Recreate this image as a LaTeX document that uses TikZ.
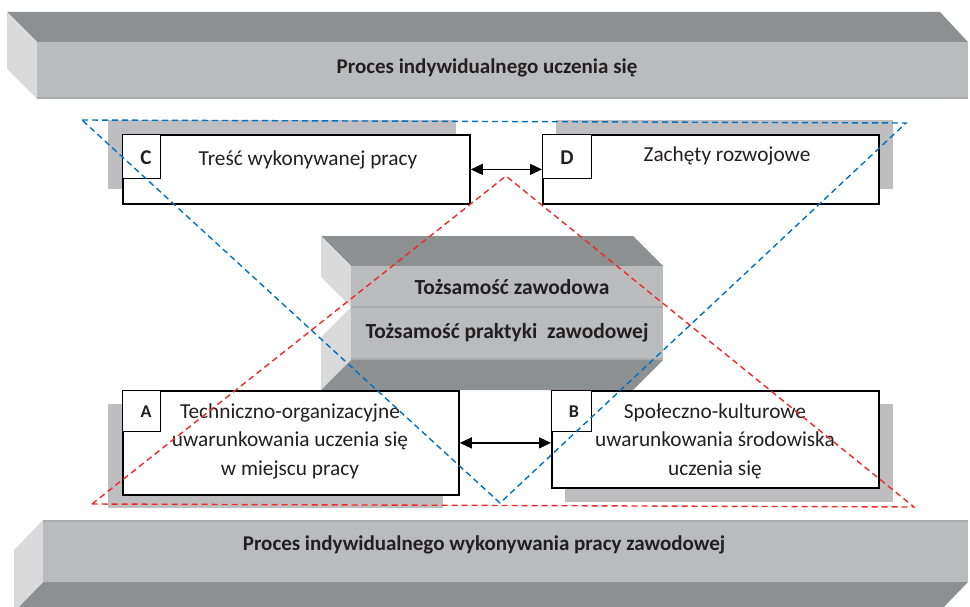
\documentclass[tikz,border=0pt]{standalone}
\usepackage{fontspec}
\setmainfont{Carlito}
\usetikzlibrary{arrows.meta}
\definecolor{barfront}{HTML}{B9BBBC}
\definecolor{bartop}{HTML}{8D9091}
\definecolor{barside}{HTML}{DADADA}
\definecolor{baredge}{HTML}{A9ABAC}
\definecolor{shadowgrey}{HTML}{BEBEC0}
\definecolor{dashblue}{HTML}{0070C0}
\definecolor{dashred}{HTML}{F02828}
\definecolor{inktext}{HTML}{231F20}
\begin{document}
\begin{tikzpicture}[x=1pt,y=-1pt,
  box/.style={draw=black, line width=1.8pt, fill=white, anchor=north west, inner sep=0pt},
  tagbox/.style={draw=black, line width=1.3pt, fill=white, anchor=north west, inner sep=0pt},
  tagtext/.style={text=inktext, font=\bfseries\fontsize{21}{24}\selectfont},
  smalltag/.style={text=inktext, font=\bfseries\fontsize{18}{21}\selectfont},
  bodytext/.style={text=inktext, font=\fontsize{21.3}{28.5}\selectfont, align=center},
  bartext/.style={text=inktext, font=\bfseries\fontsize{21}{25}\selectfont},
  idtext/.style={text=inktext, font=\bfseries\fontsize{21.5}{25}\selectfont},
  guide/.style={dash pattern=on 6pt off 4pt, line width=1.4pt},
  link/.style={line width=1.4pt, {Triangle[length=12pt,width=11pt]}-{Triangle[length=12pt,width=11pt]}}]
\useasboundingbox (0,0) rectangle (970,607);

% upper bar: learning process
\fill[bartop] (7,12) -- (940,12) -- (968,42) -- (37,42) -- cycle;
\fill[barside] (7,12) -- (37,42) -- (37,99) -- (7,69) -- cycle;
\fill[barfront] (37,42) rectangle (968,99);
\draw[baredge, line width=1.5pt] (37,98) -- (968,98);
\node[bartext] (learn) at (487,68) {Proces indywidualnego uczenia się};

% lower bar: work process
\fill[bartop] (43,582) -- (968,582) -- (939,612) -- (14,612) -- cycle;
\fill[barside] (43,520) -- (14,550) -- (14,612) -- (43,582) -- cycle;
\fill[barfront] (43,520) rectangle (968,582);
\draw[baredge, line width=1.5pt] (43,521) -- (968,521);
\node[bartext] (work) at (484,545) {Proces indywidualnego wykonywania pracy zawodowej};

% central block: identity
\fill[bartop] (321,236) -- (633,236) -- (663,266) -- (351,266) -- cycle;
\fill[barside] (321,236) -- (351,266) -- (351,307) -- (321,277) -- cycle;
\fill[barfront] (351,266) rectangle (663,307);
\fill[barside] (351,307) -- (321,337) -- (321,390) -- (351,360) -- cycle;
\fill[bartop] (351,360) -- (663,360) -- (633,390) -- (321,390) -- cycle;
\fill[barfront] (351,307) rectangle (663,360);
\draw[baredge, line width=1.5pt] (351,307) -- (663,307);
\draw[baredge, line width=1.2pt] (351,359) -- (663,359);
\node[idtext] (idjob) at (512,287) {Tożsamość zawodowa};
\node[idtext] (idpractice) at (507,333) {Tożsamość praktyki\ \ zawodowej};

% shadows behind the four boxes
\fill[shadowgrey] (108,120) rectangle (456,189);
\fill[shadowgrey] (556,120) rectangle (893,189);
\fill[shadowgrey] (108,404) rectangle (443,508);
\fill[shadowgrey] (565,404) rectangle (893,502);

% the four boxes with their letter tags
\node[box, minimum width=347, minimum height=69] (boxC) at (122,134) {};
\node[box, minimum width=336, minimum height=69] (boxD) at (542,134) {};
\node[box, minimum width=336, minimum height=104] (boxA) at (122,390) {};
\node[box, minimum width=327, minimum height=97] (boxB) at (551,390) {};

\node[tagbox, minimum width=38, minimum height=44] (tagC) at (122,134) {};
\node[tagbox, minimum width=49, minimum height=44] (tagD) at (542,134) {};
\node[tagbox, minimum width=38, minimum height=41] (tagA) at (122,390) {};
\node[tagbox, minimum width=40, minimum height=41] (tagB) at (551,390) {};

\node[tagtext] (letC) at (146,158) {C};
\node[tagtext] (letD) at (567,158) {D};
\node[smalltag] (letA) at (146,412) {A};
\node[smalltag] (letB) at (574,412) {B};

\node[bodytext] (txtC) at (308,160) {Treść wykonywanej pracy};
\node[bodytext] (txtD) at (727,156) {Zachęty rozwojowe};
\node[bodytext] (txtA) at (290,441) {Techniczno-organizacyjne\\uwarunkowania uczenia się\\w miejscu pracy};
\node[bodytext] (txtB) at (715,441) {Społeczno-kulturowe\\uwarunkowania środowiska\\uczenia się};

% dashed triangles
\draw[guide, dashblue] (82,120) -- (906,123) -- (500,503) -- cycle;
\draw[guide, dashred] (92,504) -- (506,176) -- (914,507) -- cycle;

% two-way links
\draw[link] (boxC.east) -- (boxD.west);
\draw[link] (boxA.east) -- (boxA.east -| boxB.west);
\end{tikzpicture}
\end{document}
